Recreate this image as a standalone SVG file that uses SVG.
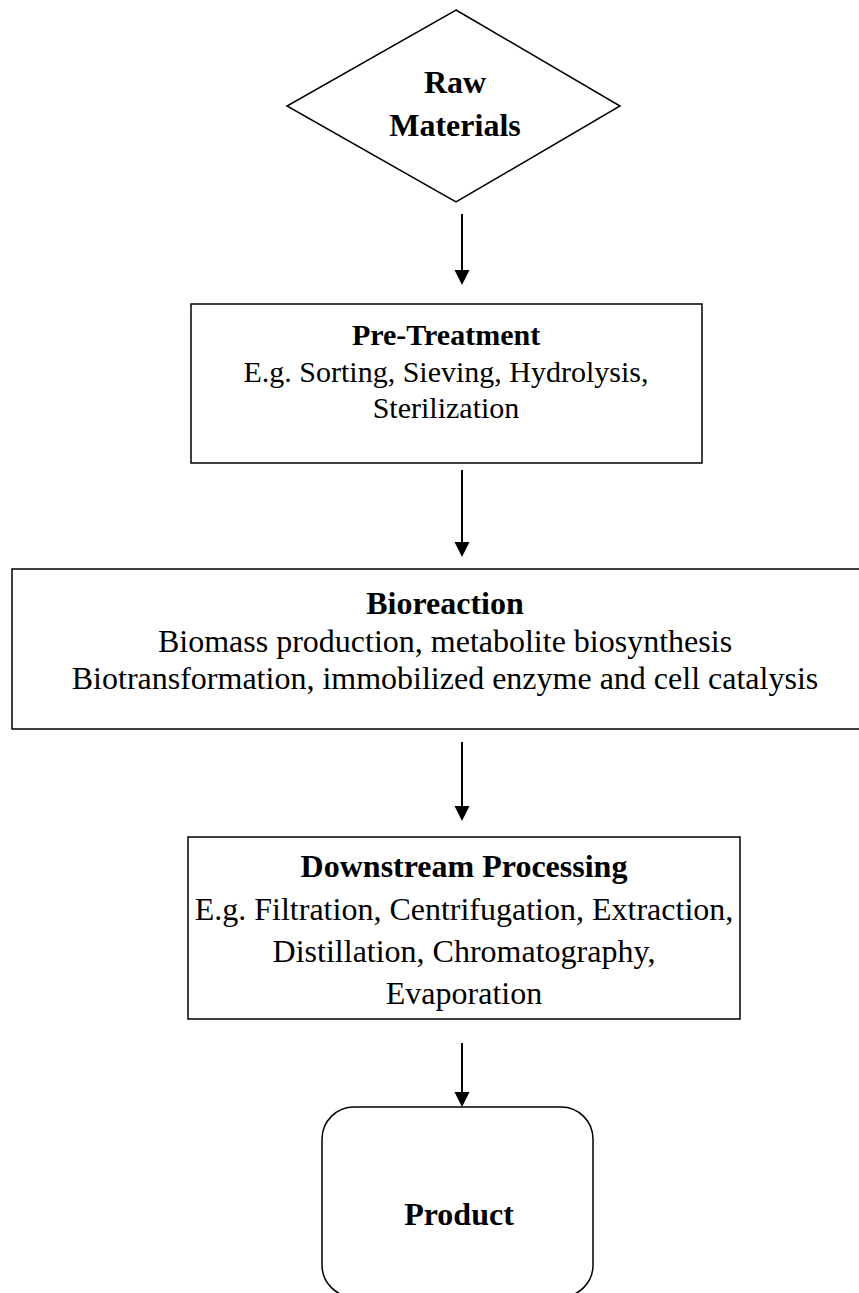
<svg xmlns="http://www.w3.org/2000/svg" width="859" height="1293" viewBox="0 0 859 1293">
<style>
.shape{fill:#fff;stroke:#000;stroke-width:1.5}
.t{font-family:"Liberation Serif","Times New Roman",serif;font-size:32px;fill:#000;text-anchor:middle}
.s{font-size:30px}
.b{font-weight:bold}
.conn line{stroke:#000;stroke-width:2}
.conn polygon{fill:#000}
</style>
<rect width="859" height="1293" fill="#fff"/>
<g id="raw-materials">
<polygon class="shape" points="456,10 620,106 456,202 287,106"/>
<text class="t b" x="455" y="93">Raw</text>
<text class="t b" x="455" y="136">Materials</text>
</g>
<g id="pre-treatment">
<rect class="shape" x="191" y="304" width="511" height="159"/>
<text class="t s b" x="446" y="345">Pre-Treatment</text>
<text class="t s" x="446" y="382">E.g. Sorting, Sieving, Hydrolysis,</text>
<text class="t s" x="446" y="418">Sterilization</text>
</g>
<g id="bioreaction">
<rect class="shape" x="12" y="569" width="866" height="160"/>
<text class="t b" x="445" y="614">Bioreaction</text>
<text class="t" x="445" y="652">Biomass production, metabolite biosynthesis</text>
<text class="t" x="445" y="689">Biotransformation, immobilized enzyme and cell catalysis</text>
</g>
<g id="downstream">
<rect class="shape" x="188" y="837" width="552" height="182"/>
<text class="t b" x="464" y="877">Downstream Processing</text>
<text class="t" x="464" y="920">E.g. Filtration, Centrifugation, Extraction,</text>
<text class="t" x="464" y="962">Distillation, Chromatography,</text>
<text class="t" x="464" y="1004">Evaporation</text>
</g>
<g id="product">
<rect class="shape" x="322" y="1107" width="271" height="190" rx="32" ry="32"/>
<text class="t b" x="459" y="1225">Product</text>
</g>
<g id="connectors" class="conn">
<line x1="462" y1="214" x2="462" y2="271"/>
<polygon points="454.5,270 469.5,270 462,285"/>
<line x1="462" y1="470" x2="462" y2="543"/>
<polygon points="454.5,542 469.5,542 462,557"/>
<line x1="462" y1="742" x2="462" y2="807"/>
<polygon points="454.5,806 469.5,806 462,821"/>
<line x1="462" y1="1043" x2="462" y2="1093"/>
<polygon points="454.5,1092 469.5,1092 462,1107"/>
</g>
</svg>
